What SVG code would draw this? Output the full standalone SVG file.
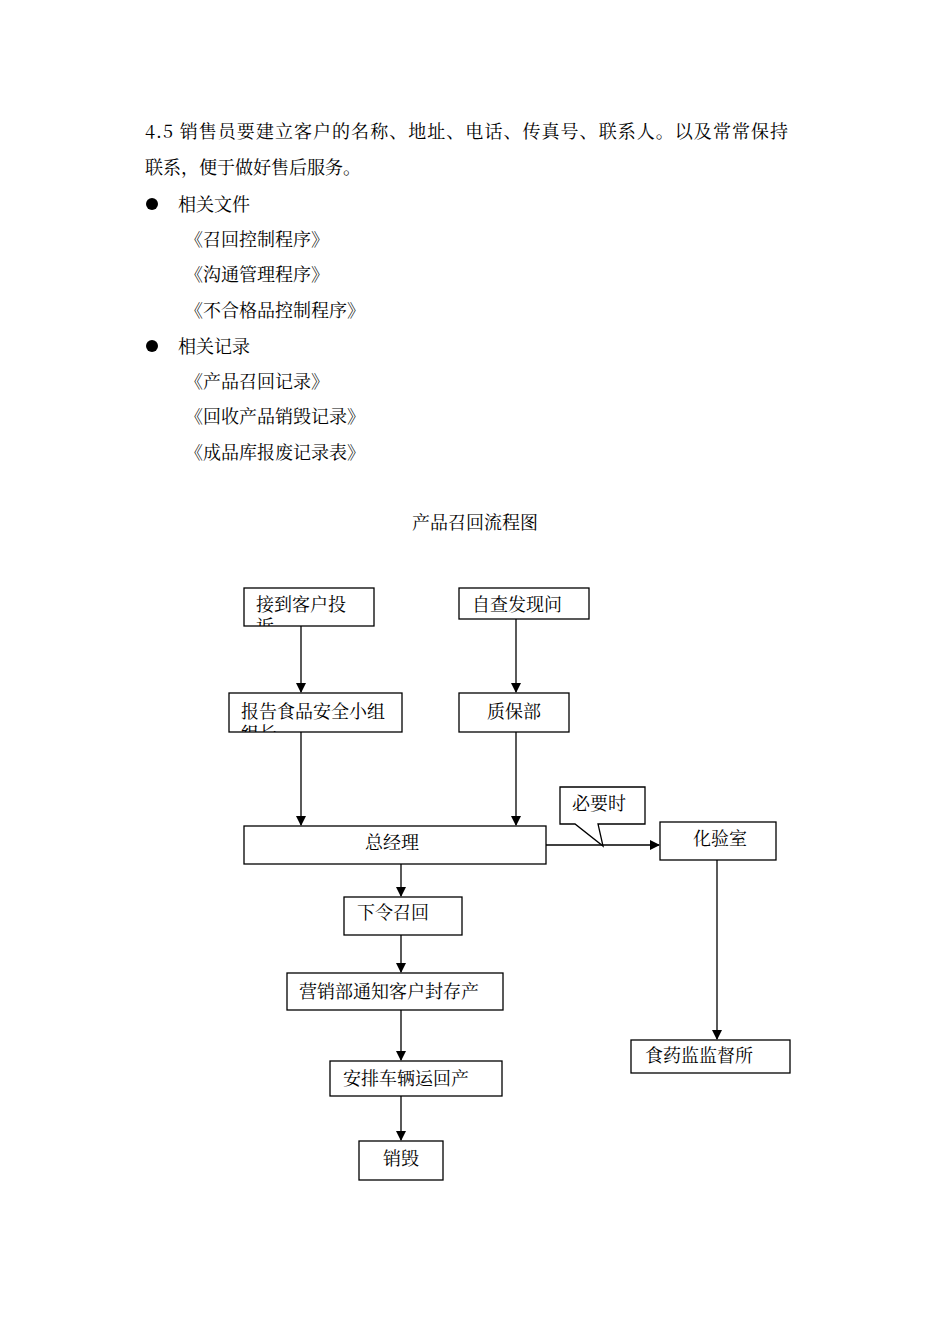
<svg xmlns="http://www.w3.org/2000/svg" width="950" height="1344" viewBox="0 0 950 1344">
<style>
text{font-family:"Noto Serif CJK SC","Noto Sans CJK SC","Liberation Serif",serif;font-size:18px;fill:#000}
.b{fill:#fff;stroke:#000;stroke-width:1.3}
.c line,.c path{stroke:#000;stroke-width:1.3;fill:none}
</style>
<defs>
<marker id="a" markerWidth="10" markerHeight="10" refX="9" refY="5" orient="auto" markerUnits="userSpaceOnUse"><path d="M0,0 L10,5 L0,10 z" fill="#000"/></marker>
<clipPath id="k1"><rect x="244" y="588" width="130" height="38"/></clipPath>
<clipPath id="k2"><rect x="229" y="693" width="173" height="39"/></clipPath>
</defs>
<rect width="950" height="1344" fill="#fff"/>
<g id="body">
<text x="145" y="138" textLength="643" lengthAdjust="spacing">4.5 销售员要建立客户的名称、地址、电话、传真号、联系人。以及常常保持</text>
<text x="145" y="174">联系，便于做好售后服务。</text>
<circle cx="152" cy="204" r="6"/><text x="178" y="211">相关文件</text>
<text x="185" y="246">《召回控制程序》</text>
<text x="185" y="281">《沟通管理程序》</text>
<text x="185" y="317">《不合格品控制程序》</text>
<circle cx="152" cy="346" r="6"/><text x="178" y="353">相关记录</text>
<text x="185" y="388">《产品召回记录》</text>
<text x="185" y="423">《回收产品销毁记录》</text>
<text x="185" y="459">《成品库报废记录表》</text>
<text x="475" y="529" text-anchor="middle">产品召回流程图</text>
</g>
<g class="c" id="connectors">
<line x1="301" y1="626" x2="301" y2="692" marker-end="url(#a)"/>
<line x1="516" y1="619" x2="516" y2="692" marker-end="url(#a)"/>
<line x1="301" y1="732" x2="301" y2="825" marker-end="url(#a)"/>
<line x1="516" y1="732" x2="516" y2="825" marker-end="url(#a)"/>
<line x1="546" y1="845" x2="659" y2="845" marker-end="url(#a)"/>
<line x1="717" y1="860" x2="717" y2="1039" marker-end="url(#a)"/>
<line x1="401" y1="864" x2="401" y2="896" marker-end="url(#a)"/>
<line x1="401" y1="935" x2="401" y2="972" marker-end="url(#a)"/>
<line x1="401" y1="1010" x2="401" y2="1060" marker-end="url(#a)"/>
<line x1="401" y1="1096" x2="401" y2="1140" marker-end="url(#a)"/>
</g>
<g id="n1"><rect class="b" x="244" y="588" width="130" height="38"/><text x="256" y="611">接到客户投</text><text x="256" y="633" clip-path="url(#k1)">诉</text></g>
<g id="n2"><rect class="b" x="459" y="588" width="130" height="31"/><text x="472" y="611">自查发现问</text></g>
<g id="n3"><rect class="b" x="229" y="693" width="173" height="39"/><text x="241" y="718">报告食品安全小组</text><text x="241" y="740" clip-path="url(#k2)">组长</text></g>
<g id="n4"><rect class="b" x="459" y="693" width="110" height="39"/><text x="514" y="718" text-anchor="middle">质保部</text></g>
<g id="n5"><rect class="b" x="244" y="826" width="302" height="38"/><text x="392" y="849" text-anchor="middle">总经理</text></g>
<g id="n6"><path class="b" d="M560,787 H645 V824 H598 L603,846 L575,824 H560 Z"/><text x="572" y="810">必要时</text></g>
<g id="n7"><rect class="b" x="660" y="822" width="116" height="38"/><text x="720" y="845" text-anchor="middle">化验室</text></g>
<g id="n8"><rect class="b" x="631" y="1040" width="159" height="33"/><text x="645" y="1062">食药监监督所</text></g>
<g id="n9"><rect class="b" x="344" y="897" width="118" height="38"/><text x="357" y="919">下令召回</text></g>
<g id="n10"><rect class="b" x="287" y="973" width="216" height="37"/><text x="299" y="998">营销部通知客户封存产</text></g>
<g id="n11"><rect class="b" x="330" y="1061" width="172" height="35"/><text x="343" y="1085">安排车辆运回产</text></g>
<g id="n12"><rect class="b" x="359" y="1141" width="84" height="39"/><text x="401" y="1165" text-anchor="middle">销毁</text></g>
</svg>
